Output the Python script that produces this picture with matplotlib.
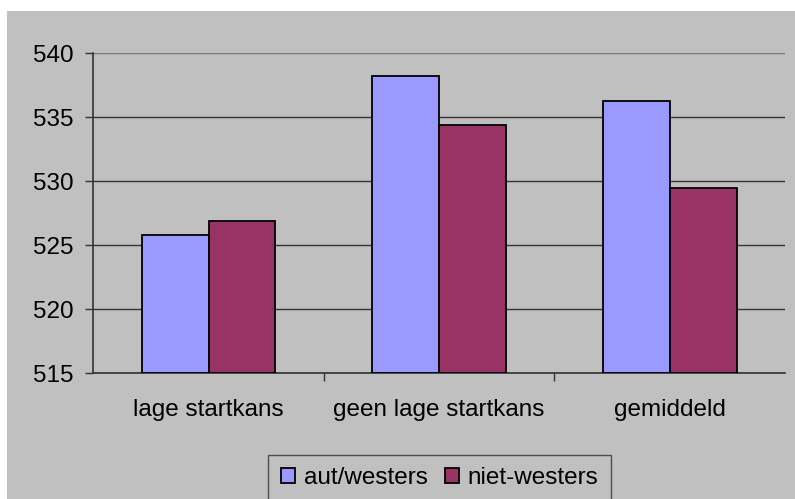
import matplotlib
matplotlib.use("Agg")
import matplotlib.pyplot as plt
from matplotlib.patches import Rectangle
import numpy as np

categories = ["lage startkans", "geen lage startkans", "gemiddeld"]
aut_westers = [525.8, 538.2, 536.3]
niet_westers = [526.9, 534.4, 529.5]
series_names = ["aut/westers", "niet-westers"]
y_ticks = [515, 520, 525, 530, 535, 540]

BG = "#c0c0c0"
FS = 17.5
plt.rcParams["font.family"] = ["Liberation Sans", "DejaVu Sans"]

fig = plt.figure(figsize=(7.95, 4.99), dpi=100)
fig.patch.set_facecolor("white")
# grey chart area, leaves a thin white strip top and left
fig.patches.append(Rectangle((7 / 795, 0), 1, 1 - 11 / 499, transform=fig.transFigure,
                             facecolor=BG, edgecolor="none", zorder=-5))

ax = fig.add_axes([93.3 / 795, 126 / 499, (785 - 93.3) / 795, (373 - 53.3) / 499])
ax.set_zorder(2)
ax.set_facecolor(BG)

x = np.arange(len(categories))
w = 0.29
ax.bar(x - w / 2, np.array(aut_westers) - 515, w, bottom=515, color="#9999ff",
       edgecolor="black", linewidth=1.3, label=series_names[0], zorder=3)
ax.bar(x + w / 2, np.array(niet_westers) - 515, w, bottom=515, color="#993366",
       edgecolor="black", linewidth=1.3, label=series_names[1], zorder=3)

ax.set_xlim(-0.5, 2.5)
ax.set_ylim(515, 540)
ax.set_yticks(y_ticks)
ax.set_yticklabels([str(v) for v in y_ticks], fontsize=FS)
ax.yaxis.grid(True, color="#333333", linewidth=1)
ax.set_axisbelow(True)
# top gridline looks lighter in the original
ax.get_ygridlines()[-1].set_color("#777777")

# category labels in the middle, ticks at the boundaries
ax.set_xticks(x)
ax.set_xticklabels(categories, fontsize=FS)
ax.tick_params(axis="x", length=0, pad=19)
ax.set_xticks([0.5, 1.5], minor=True)
ax.tick_params(axis="x", which="minor", length=6, width=1, color="#333333")
ax.tick_params(axis="y", length=6, width=1, color="#333333", pad=8)

for s in ["top", "right"]:
    ax.spines[s].set_visible(False)
ax.spines["left"].set_color("#333333")
ax.spines["bottom"].set_color("#333333")
ax.spines["left"].set_linewidth(1.2)
ax.spines["bottom"].set_linewidth(1.2)

leg = fig.legend(loc="upper center", bbox_to_anchor=(439.5 / 795, 1 - 455 / 499),
                 ncol=2, fontsize=FS, frameon=True, fancybox=False,
                 handlelength=0.6, handleheight=0.6, handletextpad=0.35,
                 columnspacing=0.7, borderpad=0.5, borderaxespad=0)
leg.get_frame().set_facecolor(BG)
leg.get_frame().set_edgecolor("#333333")
leg.get_frame().set_linewidth(1)

fig.savefig("out.png", dpi=100, facecolor=fig.get_facecolor())
